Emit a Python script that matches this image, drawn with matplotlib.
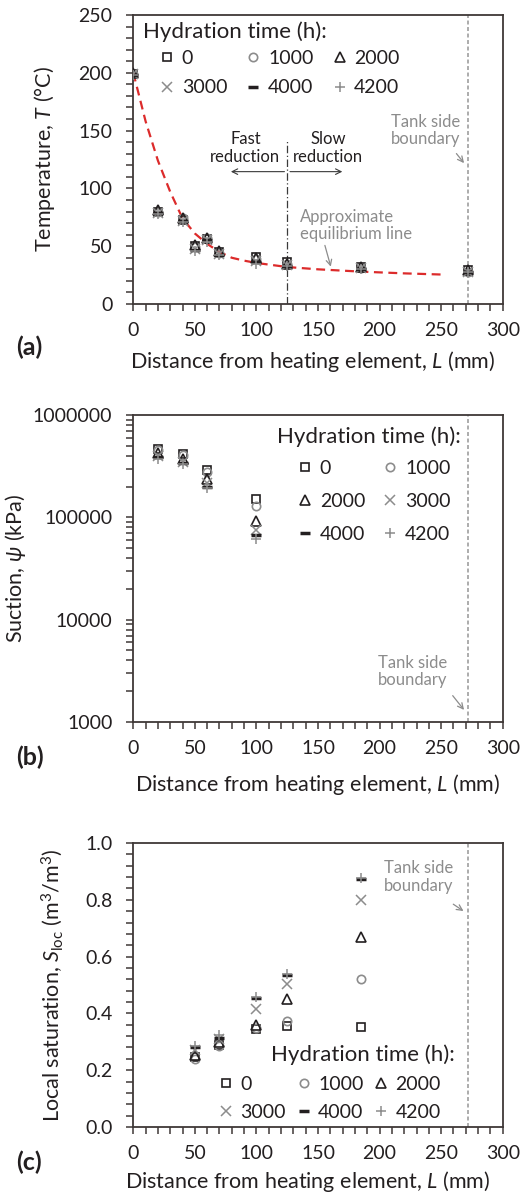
import matplotlib
matplotlib.use("Agg")
import matplotlib.pyplot as plt
from matplotlib.ticker import MultipleLocator, LogLocator, NullFormatter, FixedLocator

plt.rcParams['font.family'] = ['Lato', 'DejaVu Sans']
plt.rcParams['mathtext.fontset'] = 'custom'
plt.rcParams['mathtext.rm'] = 'Lato'
plt.rcParams['mathtext.it'] = 'Lato:italic'
plt.rcParams['mathtext.fallback'] = 'stixsans'

# hydration times and marker styles
times = ['0', '1000', '2000', '3000', '4000', '4200']
markers = ['s', 'o', '^', 'x', '_', '+']
BLACK = '#231f20'
GRAY = '#8c8c8c'
colors = [BLACK, GRAY, BLACK, GRAY, BLACK, GRAY]

# (a) temperature
L_a = [0, 20, 40, 50, 60, 70, 100, 125, 185, 272]
T_0 = [199, 80, 73, 50, 56, 45, 41, 36, 32, 29]
T_1000 = [199, 80, 74, 49, 57, 44, 39, 35, 31, 28]
T_2000 = [200, 81, 74, 51, 57, 46, 40, 35, 32, 29]
T_3000 = [199, 79, 72, 48, 55, 43, 37, 34, 31, 28]
T_4000 = [198, 79, 72, 47, 55, 42, 36, 33, 30, 28]
T_4200 = [198, 78, 71, 46, 54, 42, 35, 33, 30, 28]
temps = [T_0, T_1000, T_2000, T_3000, T_4000, T_4200]

# approximate equilibrium line
curve_L = [0, 10, 20, 30, 40, 50, 60, 70, 80, 90, 100, 125, 150, 185, 220, 250]
curve_T = [200, 158, 124, 97, 74, 61, 52, 45, 40, 37.5, 35.5, 32, 30, 28, 26.5, 25.5]

# (b) suction
L_b = [20, 40, 60, 100]
psi_0 = [4.65e5, 4.2e5, 2.9e5, 1.52e5]
psi_1000 = [4.5e5, 4.1e5, 2.8e5, 1.28e5]
psi_2000 = [4.25e5, 3.75e5, 2.35e5, 9.3e4]
psi_3000 = [4.0e5, 3.5e5, 2.15e5, 7.5e4]
psi_4000 = [3.9e5, 3.4e5, 2.0e5, 6.7e4]
psi_4200 = [3.75e5, 3.3e5, 1.92e5, 6.2e4]
suctions = [psi_0, psi_1000, psi_2000, psi_3000, psi_4000, psi_4200]

# (c) local saturation
L_c = [50, 70, 100, 125, 185]
S_0 = [0.245, 0.29, 0.345, 0.355, 0.351]
S_1000 = [0.24, 0.285, 0.35, 0.372, 0.521]
S_2000 = [0.255, 0.30, 0.36, 0.451, 0.67]
S_3000 = [0.27, 0.31, 0.414, 0.503, 0.80]
S_4000 = [0.28, 0.315, 0.455, 0.535, 0.872]
S_4200 = [0.285, 0.325, 0.458, 0.54, 0.877]
sats = [S_0, S_1000, S_2000, S_3000, S_4000, S_4200]

TANK = 272
FS_TICK = 14
FS_LAB = 15.5
FS_TITLE = 16
FS_NOTE = 12
SPINE = '#3f3837'

W, H = 527, 1196
fig = plt.figure(figsize=(W / 100, H / 100), dpi=100)


def make_axes(top, bottom):
    return fig.add_axes([133.3 / W, 1 - bottom / H, 369.4 / W, (bottom - top) / H])


ax_a = make_axes(15, 304)
ax_b = make_axes(415, 722)
ax_c = make_axes(843, 1127)


def style(ax):
    for s in ax.spines.values():
        s.set_color(SPINE)
        s.set_linewidth(1.3)
    ax.tick_params(which='both', direction='out', length=5, width=1.1,
                   color=SPINE, labelsize=FS_TICK, labelcolor=BLACK,
                   top=False, right=False)
    ax.tick_params(axis='x', pad=8)
    ax.tick_params(axis='y', pad=10)
    ax.set_xlim(0, 300)
    ax.xaxis.set_major_locator(MultipleLocator(50))
    ax.xaxis.set_minor_locator(MultipleLocator(10))


def plot_series(ax, x, series):
    handles = []
    for lab, m, c, ys in zip(times, markers, colors, series):
        ms = 6 if m in ('s', 'o') else 6.5
        if m == '_':
            ms, mew = 7, 2.5
        elif m in ('x', '+'):
            mew = 1.1
        else:
            mew = 1.2
        h, = ax.plot(x, ys, ls='none', marker=m, ms=ms, mfc='none',
                     mec=c, mew=mew, label=lab, zorder=3)
        handles.append(h)
    return handles


def legend(ax, handles, order, ncol, title_xy, leg_xy, spacing, colsp):
    ax.text(title_xy[0], title_xy[1], 'Hydration time (h):', transform=ax.transAxes,
            fontsize=FS_TITLE, ha='left', va='center', color=BLACK)
    leg = ax.legend([handles[i] for i in order], [times[i] for i in order], ncol=ncol,
                    loc='upper left', bbox_to_anchor=leg_xy, frameon=False,
                    fontsize=FS_TICK, borderpad=0, borderaxespad=0,
                    handlelength=0.7, handletextpad=0.4,
                    labelspacing=spacing, columnspacing=colsp)
    for t in leg.get_texts():
        t.set_color(BLACK)


def tank(ax, text_xy, arrow_end):
    ax.axvline(TANK, color='#a6a6a6', lw=1.3, dashes=(2.2, 1.4), zorder=1)
    ax.annotate('', xy=arrow_end, xytext=text_xy[2], xycoords='data',
                arrowprops=dict(arrowstyle='->', color='#8c8c8c', lw=0.9))
    ax.text(text_xy[0], text_xy[1], 'Tank side\nboundary', color='#8c8c8c',
            fontsize=FS_NOTE, ha='center', va='center', linespacing=1.1)


# ---- (a) ----
style(ax_a)
ax_a.set_ylim(0, 250)
ax_a.yaxis.set_major_locator(MultipleLocator(50))
ax_a.yaxis.set_minor_locator(MultipleLocator(10))
ax_a.plot(curve_L, curve_T, color='#dc2b2b', lw=1.6, dashes=(4, 2.5), zorder=2)
ha = plot_series(ax_a, L_a, temps)
ax_a.plot([125, 125], [0, 142], color='#3a3a3a', lw=0.9, dashes=(6, 2, 1, 2), zorder=1)
for x_end in (77, 172):
    ax_a.annotate('', xy=(x_end, 114.5), xytext=(125, 114.5),
                  arrowprops=dict(arrowstyle='->', color='#3a3a3a', lw=0.8))
ax_a.text(91, 135, 'Fast\nreduction', fontsize=FS_NOTE, ha='center', va='center',
          color=BLACK, linespacing=1.1)
ax_a.text(158, 135, 'Slow\nreduction', fontsize=FS_NOTE, ha='center', va='center',
          color=BLACK, linespacing=1.1)
ax_a.text(135, 68, 'Approximate\nequilibrium line', fontsize=FS_NOTE, ha='left',
          va='center', color='#8c8c8c', linespacing=1.1)
ax_a.annotate('', xy=(161, 30), xytext=(155, 53),
              arrowprops=dict(arrowstyle='->', color='#8c8c8c', lw=0.9))
tank(ax_a, (237, 150, (261, 132)), (270, 120))
legend(ax_a, ha, [0, 3, 1, 4, 2, 5], 3, (0.026, 0.941), (0.073, 0.880), 0.65, 1.0)
ax_a.set_ylabel('Temperature, $T$ (°C)', fontsize=FS_LAB, color=BLACK)
ax_a.yaxis.set_label_coords(-0.206, 0.5)
ax_a.set_xlabel('Distance from heating element, $L$ (mm)', fontsize=FS_LAB, color=BLACK)
ax_a.xaxis.set_label_coords(0.485, -0.156)

# ---- (b) ----
style(ax_b)
ax_b.set_yscale('log')
ax_b.set_ylim(1000, 1e6)
ax_b.yaxis.set_major_locator(FixedLocator([1e3, 1e4, 1e5, 1e6]))
ax_b.yaxis.set_major_formatter(matplotlib.ticker.FuncFormatter(lambda v, p: '%d' % round(v)))
ax_b.yaxis.set_minor_locator(LogLocator(base=10, subs=range(2, 10)))
ax_b.yaxis.set_minor_formatter(NullFormatter())
hb = plot_series(ax_b, L_b, suctions)
tank(ax_b, (227, 3100, (258, 1900)), (270, 1250))
legend(ax_b, hb, [0, 2, 4, 1, 3, 5], 2, (0.389, 0.928), (0.447, 0.854), 0.82, 0.95)
ax_b.set_ylabel('Suction, $\\psi$ (kPa)', fontsize=FS_LAB, color=BLACK)
ax_b.yaxis.set_label_coords(-0.285, 0.5)
ax_b.set_xlabel('Distance from heating element, $L$ (mm)', fontsize=FS_LAB, color=BLACK)
ax_b.xaxis.set_label_coords(0.5, -0.163)

# ---- (c) ----
style(ax_c)
ax_c.set_ylim(0, 1.0)
ax_c.yaxis.set_major_locator(MultipleLocator(0.2))
ax_c.yaxis.set_minor_locator(MultipleLocator(0.04))
ax_c.yaxis.set_major_formatter(matplotlib.ticker.FormatStrFormatter('%.1f'))
hc = plot_series(ax_c, L_c, sats)
tank(ax_c, (232, 0.88, (258, 0.79)), (270, 0.755))
legend(ax_c, hc, [0, 3, 1, 4, 2, 5], 3, (0.373, 0.254), (0.2325, 0.180), 0.55, 0.55)
ax_c.set_ylabel('Local saturation, $S_{\\mathrm{loc}}$ (m$^3$/m$^3$)', fontsize=FS_LAB,
                color=BLACK)
ax_c.yaxis.set_label_coords(-0.185, 0.5)
ax_c.set_xlabel('Distance from heating element, $L$ (mm)', fontsize=FS_LAB, color=BLACK)
ax_c.xaxis.set_label_coords(0.472, -0.148)

# panel letters
for lab, yc in (('(a)', 347), ('(b)', 757), ('(c)', 1162)):
    fig.text(16 / W, 1 - yc / H, lab, fontsize=18, fontweight='bold', ha='left',
             va='center', color=BLACK)

fig.savefig('out.png', dpi=100)
